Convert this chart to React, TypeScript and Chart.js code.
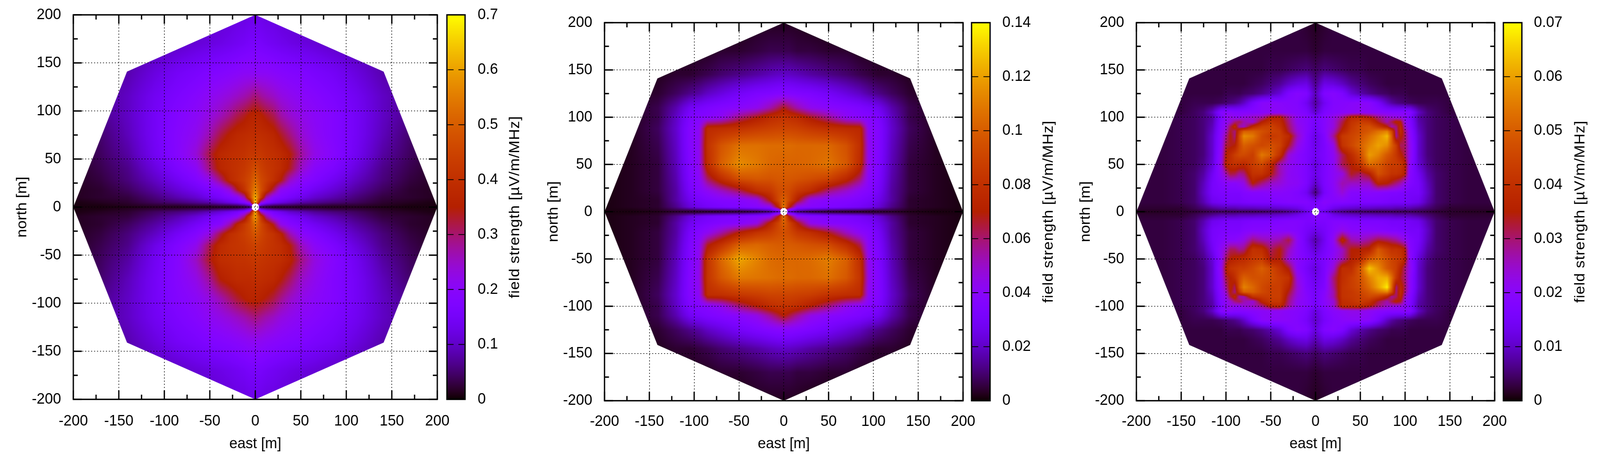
import React, { useEffect, useRef } from "react";
import { Chart, registerables } from "chart.js";

Chart.register(...registerables);

// ---------- axes and labels ----------
const axisTicks = [-200, -150, -100, -50, 0, 50, 100, 150, 200];
const minorTicks = [-175, -125, -75, -25, 25, 75, 125, 175];
const colorTicksA = [0, 0.1, 0.2, 0.3, 0.4, 0.5, 0.6, 0.7];
const colorTicksB = [0, 0.02, 0.04, 0.06, 0.08, 0.1, 0.12, 0.14];
const colorTicksC = [0, 0.01, 0.02, 0.03, 0.04, 0.05, 0.06, 0.07];
const eastTitle = "east [m]";
const northTitle = "north [m]";
const colorTitle = "field strength [µV/m/MHz]";

// ---------- footprint of the simulated area ----------
const octagonEast = [200, 141, 0, -141, -200, -141, 0, 141];
const octagonNorth = [0, 141, 200, 141, 0, -141, -200, -141];
const holeRadius = 4;

// ---------- field strength, % of the colour-bar top ----------
const eastA = [-200, -170, -140, -110, -85, -65, -50, -38, -28, -20, -12, -6, -2.5, 0, 2.5, 6, 12, 20, 28, 38, 50, 65, 85, 110, 140, 170, 200];
const northA = [200, 170, 140, 115, 95, 75, 55, 40, 28, 18, 10, 5, 1.5, 0, -1.5, -5, -10, -18, -28, -40, -55, -75, -95, -115, -140, -170, -200];
const strengthA = [
  [3, 5, 8, 10, 12, 13, 14, 15, 16, 17, 17, 18, 18, 18, 18, 18, 17, 17, 16, 15, 14, 13, 12, 10, 8, 5, 3],
  [4, 7, 10, 12, 14, 16, 17, 18, 19, 20, 21, 22, 22, 22, 22, 22, 21, 20, 19, 18, 17, 16, 14, 12, 10, 7, 4],
  [5, 9, 12, 17, 21, 23, 25, 26, 27, 28, 29, 29, 29, 29, 29, 29, 29, 28, 27, 26, 25, 23, 21, 17, 12, 9, 5],
  [6, 10, 14, 20, 24, 27, 30, 32, 34, 36, 38, 40, 42, 42, 42, 40, 38, 36, 33, 31, 29, 27, 24, 20, 14, 10, 6],
  [5, 9, 14, 21, 26, 29, 33, 37, 41, 45, 48, 51, 52, 52, 52, 51, 48, 45, 39, 35, 32, 29, 26, 21, 14, 9, 5],
  [4, 7, 13, 21, 27, 31, 38, 46, 51, 54, 55, 56, 56, 56, 56, 56, 55, 53, 48, 42, 35, 30, 26, 21, 13, 7, 4],
  [3, 6, 11, 20, 27, 34, 46, 54, 56, 57, 58, 60, 60, 60, 60, 60, 58, 57, 55, 50, 40, 32, 27, 20, 11, 6, 3],
  [2, 5, 9, 17, 24, 29, 42, 53, 56, 58, 60, 63, 66, 67, 66, 63, 60, 58, 55, 48, 36, 28, 24, 17, 9, 5, 2],
  [2, 4, 8, 14, 20, 25, 31, 42, 54, 58, 62, 66, 71, 74, 71, 66, 62, 57, 50, 36, 29, 25, 20, 14, 8, 4, 2],
  [2, 3, 6, 11, 16, 20, 24, 27, 34, 48, 58, 68, 75, 80, 75, 68, 58, 45, 30, 27, 24, 20, 16, 11, 6, 3, 2],
  [2, 3, 4, 8, 12, 15, 19, 22, 25, 28, 38, 62, 80, 88, 80, 62, 38, 28, 25, 22, 19, 15, 12, 8, 4, 3, 2],
  [1, 2, 3, 6, 8, 10, 12, 15, 18, 21, 26, 35, 70, 95, 70, 35, 26, 21, 18, 15, 12, 10, 8, 6, 3, 2, 1],
  [1, 1, 2, 3, 3, 4, 4, 5, 5, 6, 8, 12, 26, 40, 26, 12, 8, 6, 5, 5, 4, 4, 3, 3, 2, 1, 1],
  [1, 1, 1, 2, 2, 2, 2, 2, 2, 2, 3, 4, 12, 20, 12, 4, 3, 2, 2, 2, 2, 2, 2, 2, 1, 1, 1],
  [1, 1, 2, 3, 3, 4, 4, 5, 5, 6, 8, 13, 26, 38, 26, 12, 8, 6, 5, 5, 4, 4, 3, 3, 2, 1, 1],
  [1, 2, 3, 6, 8, 10, 13, 16, 19, 22, 27, 38, 68, 90, 66, 36, 27, 22, 19, 15, 13, 10, 8, 6, 3, 2, 1],
  [2, 3, 4, 8, 12, 16, 20, 23, 26, 30, 42, 62, 78, 85, 76, 60, 40, 29, 25, 22, 19, 15, 12, 8, 4, 3, 2],
  [2, 3, 6, 11, 16, 21, 25, 28, 38, 52, 60, 66, 72, 76, 72, 66, 58, 48, 32, 27, 24, 20, 16, 11, 6, 3, 2],
  [2, 4, 8, 14, 21, 26, 33, 46, 56, 59, 62, 65, 68, 70, 68, 65, 61, 58, 52, 38, 29, 25, 20, 14, 8, 4, 2],
  [2, 5, 9, 18, 25, 31, 45, 55, 58, 59, 60, 62, 63, 64, 63, 62, 60, 58, 56, 50, 37, 29, 24, 17, 9, 5, 2],
  [3, 6, 11, 20, 27, 36, 48, 56, 57, 58, 58, 59, 60, 60, 60, 59, 58, 57, 56, 52, 42, 33, 27, 20, 11, 6, 3],
  [4, 7, 13, 21, 27, 32, 40, 50, 53, 55, 55, 55, 56, 56, 56, 56, 55, 54, 50, 44, 36, 31, 26, 21, 13, 7, 4],
  [5, 9, 14, 21, 26, 29, 33, 38, 43, 47, 50, 52, 52, 52, 52, 51, 49, 46, 41, 36, 32, 29, 26, 21, 14, 9, 5],
  [6, 10, 14, 20, 24, 27, 30, 32, 34, 36, 38, 40, 41, 42, 41, 40, 38, 36, 33, 31, 29, 27, 24, 20, 14, 10, 6],
  [5, 9, 12, 17, 21, 23, 25, 26, 27, 28, 29, 30, 30, 30, 30, 30, 29, 28, 27, 26, 25, 23, 21, 17, 12, 9, 5],
  [4, 7, 10, 12, 14, 16, 17, 18, 19, 20, 21, 22, 22, 22, 22, 22, 21, 20, 19, 18, 17, 16, 14, 12, 10, 7, 4],
  [3, 5, 8, 10, 12, 13, 14, 15, 16, 17, 17, 18, 18, 18, 18, 18, 17, 17, 16, 15, 14, 13, 12, 10, 8, 5, 3],
];

const eastB = [-200, -170, -140, -120, -105, -95, -85, -70, -50, -30, -15, -6, -2, 0, 2, 6, 15, 30, 50, 70, 85, 95, 105, 120, 140, 170, 200];
const northB = [200, 170, 145, 125, 110, 100, 88, 70, 50, 35, 22, 12, 5, 1, 0, -1, -5, -12, -22, -35, -50, -70, -88, -100, -110, -125, -145, -170, -200];
const strengthB = [
  [1, 1, 1, 1, 1, 1, 1, 1, 1, 2, 2, 2, 2, 2, 2, 2, 2, 1, 1, 1, 1, 1, 1, 1, 1, 1, 1],
  [1, 1, 1, 2, 2, 2, 2, 3, 3, 4, 5, 5, 5, 5, 5, 5, 4, 4, 3, 3, 2, 2, 2, 2, 1, 1, 1],
  [1, 1, 2, 3, 3, 4, 5, 7, 9, 11, 13, 14, 14, 14, 14, 14, 13, 11, 9, 7, 5, 4, 3, 3, 2, 1, 1],
  [1, 2, 3, 6, 9, 11, 14, 17, 21, 24, 25, 26, 26, 26, 26, 26, 25, 24, 21, 17, 14, 11, 9, 6, 3, 2, 1],
  [1, 2, 5, 12, 20, 22, 24, 26, 28, 31, 38, 44, 47, 48, 47, 44, 38, 31, 28, 26, 24, 22, 20, 12, 5, 2, 1],
  [1, 2, 5, 14, 24, 26, 27, 30, 41, 49, 55, 57, 58, 58, 58, 57, 55, 48, 40, 30, 27, 26, 24, 14, 5, 2, 1],
  [1, 2, 6, 15, 26, 29, 55, 56, 58, 61, 63, 64, 64, 64, 64, 64, 63, 60, 57, 55, 54, 29, 26, 15, 6, 2, 1],
  [1, 2, 5, 14, 26, 30, 58, 69, 76, 76, 75, 75, 75, 75, 75, 75, 74, 74, 74, 68, 57, 30, 26, 14, 5, 2, 1],
  [1, 2, 4, 13, 25, 30, 56, 72, 82, 78, 74, 73, 73, 73, 73, 73, 73, 74, 77, 70, 55, 30, 25, 13, 4, 2, 1],
  [1, 2, 4, 12, 24, 28, 44, 56, 68, 70, 69, 70, 70, 70, 70, 70, 69, 67, 64, 54, 43, 28, 24, 12, 4, 2, 1],
  [1, 2, 4, 11, 22, 26, 30, 36, 44, 56, 60, 66, 67, 67, 67, 66, 60, 55, 42, 35, 29, 26, 22, 11, 4, 2, 1],
  [1, 2, 3, 11, 19, 22, 24, 26, 27, 31, 50, 65, 71, 72, 71, 65, 50, 30, 27, 26, 24, 22, 19, 11, 3, 2, 1],
  [1, 2, 3, 9, 16, 19, 21, 23, 25, 27, 30, 52, 72, 80, 72, 52, 30, 27, 25, 23, 21, 19, 16, 9, 3, 2, 1],
  [1, 1, 2, 4, 4, 4, 5, 5, 6, 8, 12, 22, 30, 40, 30, 22, 12, 8, 6, 5, 5, 4, 4, 4, 2, 1, 1],
  [1, 1, 1, 2, 3, 3, 2, 3, 3, 3, 5, 8, 15, 30, 15, 8, 5, 3, 3, 3, 2, 3, 3, 2, 1, 1, 1],
  [1, 1, 2, 4, 4, 4, 5, 5, 6, 8, 12, 22, 30, 38, 30, 22, 12, 8, 6, 5, 5, 4, 4, 4, 2, 1, 1],
  [1, 2, 3, 9, 16, 19, 21, 23, 25, 27, 30, 50, 70, 78, 70, 50, 30, 27, 25, 23, 21, 19, 16, 9, 3, 2, 1],
  [1, 2, 3, 11, 19, 22, 24, 26, 27, 32, 52, 64, 70, 72, 70, 64, 50, 31, 27, 26, 24, 22, 19, 11, 3, 2, 1],
  [1, 2, 4, 11, 22, 26, 30, 38, 50, 58, 62, 66, 67, 68, 67, 66, 60, 56, 48, 36, 29, 26, 22, 11, 4, 2, 1],
  [1, 2, 4, 12, 24, 29, 48, 58, 72, 74, 72, 71, 71, 71, 71, 71, 70, 68, 66, 56, 45, 28, 24, 12, 4, 2, 1],
  [1, 2, 4, 13, 25, 30, 59, 74, 87, 80, 75, 74, 74, 74, 74, 74, 74, 75, 79, 72, 57, 30, 25, 13, 4, 2, 1],
  [1, 2, 5, 14, 26, 31, 59, 70, 78, 77, 76, 75, 75, 75, 75, 75, 74, 74, 76, 70, 59, 31, 26, 14, 5, 2, 1],
  [1, 2, 6, 15, 26, 29, 56, 57, 60, 62, 64, 64, 64, 64, 64, 64, 63, 62, 58, 56, 55, 29, 26, 15, 6, 2, 1],
  [1, 2, 5, 14, 24, 26, 27, 31, 42, 50, 56, 58, 58, 58, 58, 58, 56, 50, 42, 31, 27, 26, 24, 14, 5, 2, 1],
  [1, 2, 5, 12, 20, 22, 24, 26, 28, 32, 40, 46, 49, 50, 49, 46, 40, 32, 28, 26, 24, 22, 20, 12, 5, 2, 1],
  [1, 2, 3, 6, 9, 11, 14, 17, 21, 24, 26, 27, 27, 27, 27, 27, 26, 24, 21, 17, 14, 11, 9, 6, 3, 2, 1],
  [1, 1, 2, 3, 3, 4, 5, 7, 9, 11, 13, 14, 14, 15, 14, 14, 13, 11, 9, 7, 5, 4, 3, 3, 2, 1, 1],
  [1, 1, 1, 2, 2, 2, 2, 3, 3, 4, 5, 5, 5, 5, 5, 5, 4, 4, 3, 3, 2, 2, 2, 2, 1, 1, 1],
  [1, 1, 1, 1, 1, 1, 1, 1, 1, 2, 2, 2, 2, 2, 2, 2, 2, 1, 1, 1, 1, 1, 1, 1, 1, 1, 1],
];

const eastC = [-200, -170, -150, -135, -125, -115, -105, -100, -95, -90, -85, -80, -70, -60, -50, -40, -30, -20, -10, 0, 10, 20, 30, 40, 50, 60, 70, 80, 85, 90, 95, 100, 105, 115, 125, 135, 150, 170, 200];
const northC = [200, 170, 150, 135, 125, 115, 105, 100, 95, 90, 85, 80, 70, 60, 50, 40, 30, 20, 10, 3, 0, -3, -10, -20, -30, -40, -50, -60, -70, -80, -85, -90, -95, -100, -105, -115, -125, -135, -150, -170, -200];
const strengthC = [
  [4, 4, 4, 4, 4, 4, 4, 4, 4, 4, 4, 4, 4, 4, 4, 4, 4, 4, 3, 2, 3, 4, 4, 4, 4, 4, 4, 4, 4, 4, 4, 4, 4, 4, 4, 4, 4, 4, 4],
  [4, 4, 4, 4, 4, 4, 4, 4, 4, 4, 4, 4, 4, 4, 4, 4, 4, 4, 4, 3, 4, 4, 4, 4, 4, 4, 4, 4, 4, 4, 4, 4, 4, 4, 4, 4, 4, 4, 4],
  [4, 4, 4, 4, 4, 4, 4, 4, 4, 4, 4, 4, 4, 4, 5, 5, 6, 7, 8, 6, 8, 7, 6, 5, 5, 4, 4, 4, 4, 4, 4, 4, 4, 4, 4, 4, 4, 4, 4],
  [4, 4, 4, 4, 4, 4, 4, 4, 4, 4, 4, 4, 5, 6, 8, 10, 14, 17, 18, 9, 18, 17, 14, 10, 8, 6, 5, 4, 4, 4, 4, 4, 4, 4, 4, 4, 4, 4, 4],
  [4, 4, 4, 4, 4, 4, 4, 5, 5, 5, 5, 6, 7, 9, 12, 16, 24, 27, 25, 12, 25, 27, 24, 16, 12, 9, 7, 6, 5, 5, 5, 5, 4, 4, 4, 4, 4, 4, 4],
  [4, 4, 4, 5, 5, 5, 6, 7, 8, 9, 11, 14, 22, 28, 29, 28, 27, 26, 20, 10, 20, 26, 27, 28, 29, 28, 22, 14, 11, 9, 8, 7, 6, 5, 5, 5, 4, 4, 4],
  [4, 4, 4, 6, 8, 14, 27, 28, 28, 27, 27, 27, 27, 28, 29, 29, 28, 27, 24, 14, 24, 27, 28, 29, 30, 29, 28, 27, 27, 27, 27, 28, 27, 14, 8, 6, 4, 4, 4],
  [4, 4, 5, 6, 8, 11, 24, 30, 33, 30, 30, 33, 36, 38, 50, 52, 40, 30, 27, 22, 27, 32, 40, 53, 55, 50, 42, 36, 34, 32, 32, 30, 24, 11, 8, 6, 5, 4, 4],
  [4, 4, 5, 6, 8, 12, 26, 30, 34, 42, 45, 38, 34, 50, 58, 55, 42, 30, 27, 21, 27, 33, 45, 58, 62, 60, 48, 38, 45, 52, 50, 32, 26, 12, 8, 6, 5, 4, 4],
  [4, 4, 5, 6, 8, 13, 27, 32, 45, 55, 38, 36, 54, 62, 64, 58, 44, 32, 27, 20, 27, 33, 48, 60, 66, 68, 60, 50, 38, 42, 55, 36, 27, 13, 8, 6, 5, 4, 4],
  [4, 4, 5, 6, 8, 14, 28, 36, 48, 42, 60, 72, 72, 68, 64, 62, 46, 33, 27, 19, 27, 36, 52, 62, 66, 70, 76, 80, 66, 40, 56, 42, 29, 14, 8, 6, 5, 4, 4],
  [4, 4, 5, 6, 8, 15, 29, 40, 50, 42, 66, 82, 78, 66, 60, 62, 55, 36, 26, 17, 25, 40, 60, 64, 68, 75, 82, 90, 72, 40, 52, 44, 30, 15, 8, 6, 5, 4, 4],
  [4, 4, 5, 6, 8, 15, 30, 46, 48, 50, 64, 72, 68, 65, 68, 64, 48, 32, 25, 18, 24, 32, 58, 65, 72, 80, 86, 82, 72, 62, 44, 44, 32, 15, 8, 6, 5, 4, 4],
  [4, 4, 5, 6, 8, 15, 32, 50, 56, 62, 66, 66, 62, 78, 72, 58, 34, 28, 24, 20, 24, 30, 44, 55, 66, 85, 80, 70, 66, 60, 52, 44, 32, 15, 8, 6, 5, 4, 4],
  [4, 4, 5, 6, 9, 16, 33, 52, 56, 58, 56, 54, 62, 66, 55, 38, 31, 28, 24, 16, 24, 29, 45, 50, 60, 76, 72, 64, 62, 62, 60, 52, 30, 16, 9, 6, 5, 4, 4],
  [4, 4, 5, 7, 11, 20, 30, 38, 46, 45, 40, 42, 58, 58, 50, 38, 30, 28, 24, 18, 24, 29, 33, 48, 44, 50, 68, 62, 58, 58, 56, 50, 28, 20, 11, 7, 5, 4, 4],
  [4, 4, 5, 7, 13, 22, 26, 28, 28, 28, 30, 32, 50, 42, 36, 34, 30, 29, 24, 14, 24, 29, 38, 36, 36, 36, 52, 50, 46, 42, 38, 32, 26, 22, 13, 7, 5, 4, 4],
  [4, 4, 5, 7, 14, 22, 24, 24, 24, 24, 24, 26, 27, 27, 28, 28, 27, 25, 20, 7, 22, 28, 34, 27, 27, 28, 27, 26, 25, 25, 24, 24, 22, 22, 14, 7, 5, 4, 4],
  [4, 4, 5, 7, 12, 19, 21, 22, 22, 22, 22, 23, 24, 24, 24, 25, 26, 26, 26, 22, 28, 26, 26, 25, 24, 24, 24, 23, 22, 22, 22, 22, 21, 19, 12, 7, 5, 4, 4],
  [3, 3, 3, 5, 7, 9, 11, 11, 11, 11, 12, 12, 12, 13, 13, 14, 15, 17, 22, 25, 24, 18, 15, 14, 13, 13, 12, 12, 12, 11, 11, 11, 11, 9, 7, 5, 3, 3, 3],
  [2, 2, 3, 3, 4, 5, 5, 5, 5, 5, 5, 5, 5, 5, 6, 6, 8, 10, 16, 22, 16, 10, 8, 6, 6, 5, 5, 5, 5, 5, 5, 5, 5, 5, 4, 3, 3, 2, 2],
  [3, 3, 3, 5, 7, 9, 11, 11, 11, 11, 12, 12, 12, 13, 13, 14, 15, 18, 22, 26, 26, 18, 15, 14, 13, 13, 12, 12, 12, 11, 11, 11, 11, 9, 7, 5, 3, 3, 3],
  [4, 4, 5, 7, 12, 19, 21, 22, 22, 22, 22, 23, 24, 24, 24, 25, 26, 26, 24, 24, 24, 26, 26, 25, 24, 24, 24, 23, 22, 22, 22, 22, 21, 19, 12, 7, 5, 4, 4],
  [4, 4, 5, 7, 14, 22, 24, 24, 24, 24, 24, 26, 27, 27, 28, 28, 27, 26, 22, 18, 22, 27, 32, 28, 28, 28, 27, 26, 25, 25, 24, 24, 22, 22, 14, 7, 5, 4, 4],
  [4, 4, 5, 7, 13, 22, 26, 28, 28, 28, 30, 32, 42, 38, 36, 38, 46, 29, 20, 11, 20, 30, 54, 38, 36, 40, 46, 44, 42, 40, 36, 32, 26, 22, 13, 7, 5, 4, 4],
  [4, 4, 5, 7, 11, 20, 30, 36, 44, 44, 40, 42, 58, 56, 44, 50, 37, 28, 22, 15, 22, 28, 36, 50, 50, 52, 70, 62, 58, 58, 56, 50, 28, 20, 11, 7, 5, 4, 4],
  [4, 4, 5, 6, 9, 16, 30, 44, 50, 52, 54, 55, 60, 62, 48, 50, 34, 28, 24, 20, 24, 30, 38, 50, 55, 70, 75, 68, 64, 62, 60, 52, 30, 16, 9, 6, 5, 4, 4],
  [4, 4, 5, 6, 8, 15, 32, 50, 58, 60, 62, 62, 66, 72, 66, 58, 48, 28, 22, 16, 24, 34, 56, 56, 70, 92, 82, 70, 66, 62, 52, 42, 32, 15, 8, 6, 5, 4, 4],
  [4, 4, 5, 6, 8, 15, 30, 46, 50, 56, 66, 72, 68, 68, 66, 62, 58, 32, 24, 18, 24, 42, 56, 62, 68, 80, 88, 88, 76, 60, 48, 42, 30, 15, 8, 6, 5, 4, 4],
  [4, 4, 5, 6, 8, 15, 29, 40, 52, 44, 68, 80, 74, 66, 62, 62, 52, 34, 25, 20, 25, 40, 58, 62, 66, 75, 86, 98, 74, 42, 54, 44, 30, 15, 8, 6, 5, 4, 4],
  [4, 4, 5, 6, 8, 14, 28, 36, 50, 42, 60, 72, 72, 66, 62, 62, 48, 33, 26, 21, 27, 38, 58, 60, 64, 70, 76, 80, 66, 42, 56, 42, 29, 14, 8, 6, 5, 4, 4],
  [4, 4, 5, 6, 8, 13, 27, 32, 46, 54, 38, 38, 58, 60, 62, 62, 44, 32, 27, 21, 28, 38, 58, 60, 62, 66, 62, 52, 40, 44, 54, 36, 27, 13, 8, 6, 5, 4, 4],
  [4, 4, 5, 6, 8, 12, 26, 30, 34, 42, 45, 38, 34, 52, 60, 60, 42, 30, 27, 21, 28, 34, 56, 58, 62, 58, 46, 38, 46, 52, 48, 32, 26, 12, 8, 6, 5, 4, 4],
  [4, 4, 5, 6, 8, 11, 24, 30, 33, 30, 30, 34, 36, 40, 52, 54, 40, 30, 27, 22, 27, 34, 55, 55, 56, 50, 42, 36, 34, 32, 32, 30, 24, 11, 8, 6, 5, 4, 4],
  [4, 4, 4, 6, 8, 14, 27, 28, 28, 27, 27, 27, 28, 29, 30, 30, 28, 27, 24, 16, 24, 28, 30, 32, 32, 30, 28, 27, 27, 27, 27, 28, 27, 14, 8, 6, 4, 4, 4],
  [4, 4, 4, 5, 5, 5, 6, 7, 8, 9, 11, 14, 22, 28, 29, 29, 28, 26, 22, 14, 22, 26, 28, 29, 29, 28, 22, 14, 11, 9, 8, 7, 6, 5, 5, 5, 4, 4, 4],
  [4, 4, 4, 4, 4, 4, 4, 5, 5, 5, 5, 6, 7, 9, 12, 16, 24, 27, 25, 16, 25, 27, 24, 16, 12, 9, 7, 6, 5, 5, 5, 5, 4, 4, 4, 4, 4, 4, 4],
  [4, 4, 4, 4, 4, 4, 4, 4, 4, 4, 4, 4, 5, 6, 8, 10, 14, 17, 18, 12, 18, 17, 14, 10, 8, 6, 5, 4, 4, 4, 4, 4, 4, 4, 4, 4, 4, 4, 4],
  [4, 4, 4, 4, 4, 4, 4, 4, 4, 4, 4, 4, 4, 4, 5, 5, 6, 7, 8, 6, 8, 7, 6, 5, 5, 4, 4, 4, 4, 4, 4, 4, 4, 4, 4, 4, 4, 4, 4],
  [4, 4, 4, 4, 4, 4, 4, 4, 4, 4, 4, 4, 4, 4, 4, 4, 4, 4, 4, 3, 4, 4, 4, 4, 4, 4, 4, 4, 4, 4, 4, 4, 4, 4, 4, 4, 4, 4, 4],
  [4, 4, 4, 4, 4, 4, 4, 4, 4, 4, 4, 4, 4, 4, 4, 4, 4, 4, 3, 2, 3, 4, 4, 4, 4, 4, 4, 4, 4, 4, 4, 4, 4, 4, 4, 4, 4, 4, 4],
];

// ---------- page layout ----------
const WIDTH = 4320;
const HEIGHT = 1190;
const FONT = "'Liberation Sans', Arial, sans-serif";
const FONT_SIZE = 39.5;
const panels = [
  { offset: 0, left: 198, right: 1181, top: 38, bottom: 1022, barLeft: 1207, barRight: 1256, labelPad: 109, titleX: 1391, northPad: 36, xPad: 32, east: eastA, north: northA, strength: strengthA, colorTicks: colorTicksA },
  { offset: 1440, left: 192.5, right: 1160, top: 58, bottom: 1025.5, barLeft: 1183, barRight: 1233, labelPad: 106, titleX: 1391, northPad: 31, xPad: 30, east: eastB, north: northB, strength: strengthB, colorTicks: colorTicksB },
  { offset: 2880, left: 188, right: 1155.5, top: 58, bottom: 1025.5, barLeft: 1179, barRight: 1229, labelPad: 106, titleX: 1387, northPad: 27, xPad: 30, east: eastC, north: northC, strength: strengthC, colorTicks: colorTicksC },
];

// gnuplot's default pm3d palette (rgbformulae 7,5,15)
function palette(g: number): [number, number, number] {
  const t = Math.min(1, Math.max(0, g));
  return [255 * Math.sqrt(t), 255 * t * t * t, 255 * Math.max(0, Math.sin(2 * Math.PI * t))];
}

function bracket(axis: number[], v: number): [number, number] {
  for (let i = 0; i < axis.length - 1; i++) {
    const a = axis[i];
    const b = axis[i + 1];
    if ((v >= a && v <= b) || (v <= a && v >= b)) return [i, (v - a) / (b - a)];
  }
  return [0, 0];
}

function noScalePadding(s: any) {
  s.paddingTop = 0;
  s.paddingBottom = 0;
  s.paddingLeft = 0;
  s.paddingRight = 0;
}

function makePlugin(p: (typeof panels)[number]) {
  return {
    id: "fieldMap",
    beforeDatasetsDraw(chart: any) {
      const { ctx, chartArea, scales } = chart;
      const sx = scales.x;
      const sy = scales.y;
      const x0 = Math.floor(chartArea.left);
      const y0 = Math.floor(chartArea.top);
      const w = Math.ceil(chartArea.right) - x0;
      const h = Math.ceil(chartArea.bottom) - y0;
      const off = document.createElement("canvas");
      off.width = w;
      off.height = h;
      const octx = off.getContext("2d")!;
      const img = octx.createImageData(w, h);
      const cols = Array.from({ length: w }, (_, i) => bracket(p.east, sx.getValueForPixel(x0 + i + 0.5)));
      const rows = Array.from({ length: h }, (_, j) => bracket(p.north, sy.getValueForPixel(y0 + j + 0.5)));
      let o = 0;
      for (let j = 0; j < h; j++) {
        const [rj, fy] = rows[j];
        const r0 = p.strength[rj];
        const r1 = p.strength[rj + 1];
        for (let i = 0; i < w; i++) {
          const [ci, fx] = cols[i];
          const a = r0[ci] + (r0[ci + 1] - r0[ci]) * fx;
          const b = r1[ci] + (r1[ci + 1] - r1[ci]) * fx;
          const [r, g, bl] = palette((a + (b - a) * fy) / 100);
          img.data[o++] = r;
          img.data[o++] = g;
          img.data[o++] = bl;
          img.data[o++] = 255;
        }
      }
      octx.putImageData(img, 0, 0);
      ctx.save();
      ctx.beginPath();
      octagonEast.forEach((e, i) => {
        const px = sx.getPixelForValue(e);
        const py = sy.getPixelForValue(octagonNorth[i]);
        if (i === 0) ctx.moveTo(px, py);
        else ctx.lineTo(px, py);
      });
      ctx.closePath();
      ctx.clip();
      ctx.drawImage(off, x0, y0);
      ctx.restore();
      ctx.save();
      ctx.fillStyle = "#fff";
      ctx.beginPath();
      ctx.ellipse(
        sx.getPixelForValue(0),
        sy.getPixelForValue(0),
        sx.getPixelForValue(holeRadius) - sx.getPixelForValue(0),
        sy.getPixelForValue(0) - sy.getPixelForValue(holeRadius),
        0, 0, Math.PI * 2,
      );
      ctx.fill();
      ctx.restore();
    },
    afterDraw(chart: any) {
      const { ctx, chartArea, scales } = chart;
      const { left, right, top, bottom } = chartArea;
      const cb = scales.cb;
      const sx = scales.x;
      const sy = scales.y;
      ctx.save();
      const yTop = cb.getPixelForValue(cb.max);
      const yBot = cb.getPixelForValue(cb.min);
      for (let y = Math.floor(yTop); y < Math.ceil(yBot); y++) {
        const [r, g, b] = palette((yBot - y - 0.5) / (yBot - yTop));
        ctx.fillStyle = `rgb(${r},${g},${b})`;
        ctx.fillRect(p.barLeft, y, p.barRight - p.barLeft, 1);
      }
      ctx.strokeStyle = "#000";
      ctx.lineWidth = 2;
      p.colorTicks.slice(1, -1).forEach((v) => {
        const y = cb.getPixelForValue(v);
        ctx.beginPath();
        ctx.moveTo(p.barLeft, y);
        ctx.lineTo(p.barLeft + 18, y);
        ctx.moveTo(p.barRight - 18, y);
        ctx.lineTo(p.barRight, y);
        ctx.stroke();
      });
      ctx.lineWidth = 3.5;
      ctx.strokeRect(p.barLeft, yTop, p.barRight - p.barLeft, yBot - yTop);
      ctx.beginPath();
      const mark = (v: number, len: number) => {
        const px = sx.getPixelForValue(v);
        const py = sy.getPixelForValue(v);
        ctx.moveTo(px, bottom);
        ctx.lineTo(px, bottom - len);
        ctx.moveTo(px, top);
        ctx.lineTo(px, top + len);
        ctx.moveTo(left, py);
        ctx.lineTo(left + len, py);
        ctx.moveTo(right, py);
        ctx.lineTo(right - len, py);
      };
      axisTicks.forEach((v) => mark(v, 23));
      minorTicks.forEach((v) => mark(v, 12));
      ctx.stroke();
      ctx.strokeRect(left, top, right - left, bottom - top);
      ctx.translate(p.titleX, (top + bottom) / 2);
      ctx.rotate(-Math.PI / 2);
      ctx.fillStyle = "#000";
      ctx.font = `${FONT_SIZE}px ${FONT}`;
      (ctx as any).letterSpacing = "0.9px";
      ctx.textAlign = "center";
      ctx.textBaseline = "middle";
      ctx.fillText(colorTitle, 0, 0);
      ctx.restore();
    },
  };
}

function Panel({ p, fit }: { p: (typeof panels)[number]; fit: number }) {
  const ref = useRef<HTMLCanvasElement>(null);
  useEffect(() => {
    const font = { family: FONT, size: FONT_SIZE };
    const cells = p.north.flatMap((n, j) => p.east.map((e, i) => ({ x: e, y: n, v: p.strength[j][i] })));
    const axis = (extra: any) => ({
      type: "linear",
      min: -200,
      max: 200,
      afterBuildTicks: (s: any) => {
        s.ticks = axisTicks.map((value) => ({ value }));
      },
      grid: { color: "#000", lineWidth: 1.6, z: 1, drawTicks: false },
      border: { display: false, dash: [3, 5] },
      ...extra,
    });
    const chart = new Chart(ref.current!, {
      type: "scatter",
      data: { datasets: [{ data: cells as any, pointRadius: 0, pointHoverRadius: 0 }] },
      plugins: [makePlugin(p)],
      options: {
        responsive: false,
        animation: false,
        devicePixelRatio: 1,
        events: [],
        layout: { autoPadding: false, padding: { left: 0, right: 0, top: p.top, bottom: 0 } },
        plugins: { legend: { display: false }, tooltip: { enabled: false }, title: { display: false } },
        scales: {
          x: axis({
            position: "bottom",
            afterFit: (s: any) => { s.height = HEIGHT - p.bottom; noScalePadding(s); },
            ticks: { color: "#000", font, padding: p.xPad, maxRotation: 0, autoSkip: false, callback: (v: any) => String(v) },
            title: { display: true, text: eastTitle, color: "#000", font, padding: { top: 0, bottom: 30 } },
          }),
          y: axis({
            position: "left",
            afterFit: (s: any) => { s.width = p.left; noScalePadding(s); },
            ticks: { color: "#000", font, padding: 33, autoSkip: false, callback: (v: any) => String(v) },
            title: { display: true, text: northTitle, color: "#000", font, padding: { top: p.northPad, bottom: 0 } },
          }),
          cb: {
            type: "linear",
            position: "right",
            min: 0,
            max: p.colorTicks[p.colorTicks.length - 1],
            afterBuildTicks: (s: any) => {
              s.ticks = p.colorTicks.map((value) => ({ value }));
            },
            afterFit: (s: any) => { s.width = 1440 - p.right; noScalePadding(s); },
            grid: { display: false, drawTicks: false },
            border: { display: false },
            ticks: { color: "#000", font, padding: p.labelPad, autoSkip: false, callback: (v: any) => String(v) },
          },
        },
      } as any,
    });
    return () => chart.destroy();
  }, [p]);
  return (
    <canvas
      ref={ref}
      width={1440}
      height={HEIGHT}
      style={{ position: "absolute", left: p.offset * fit, top: 0, width: 1440 * fit, height: HEIGHT, background: "#fff" }}
    />
  );
}

export default function App() {
  // The browser window may be narrower than the 4320 px reference: keep all three panels in view.
  const fit = Math.min(1, window.innerWidth / WIDTH);
  return (
    <div style={{ position: "absolute", left: 0, top: 0, width: WIDTH * fit, height: HEIGHT, background: "#fff", overflow: "hidden" }}>
      {panels.map((p) => (
        <Panel key={p.offset} p={p} fit={fit} />
      ))}
    </div>
  );
}
